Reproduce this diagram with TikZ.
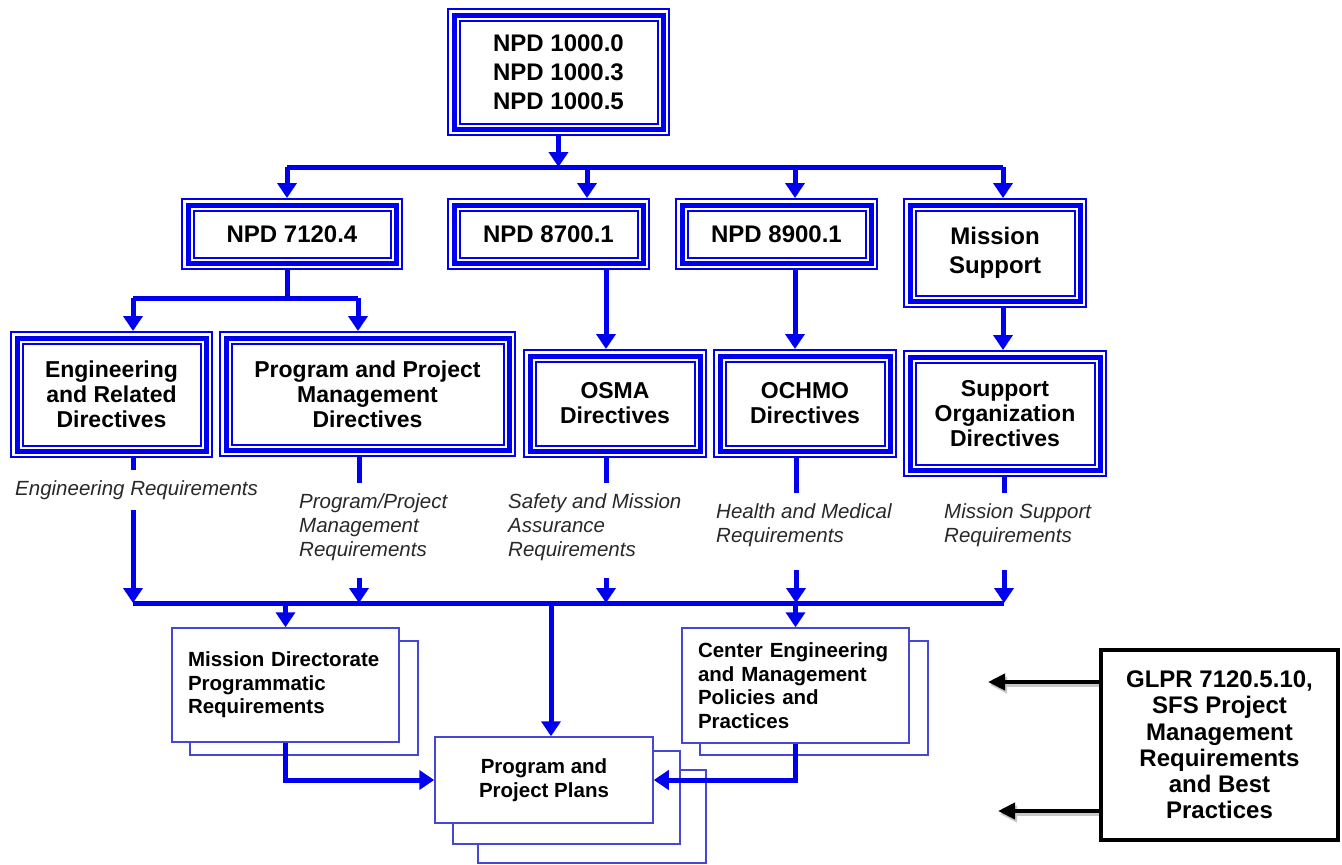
\documentclass[tikz,border=0pt]{standalone}
\usepackage{fontspec}
\setmainfont{Liberation Sans}
\usetikzlibrary{arrows.meta}
\definecolor{dblue}{RGB}{0,0,240}
\definecolor{tblue}{RGB}{70,70,215}
\definecolor{lbl}{RGB}{40,40,40}
\pgfdeclarelayer{bg}
\pgfsetlayers{bg,main}
\begin{document}
\begin{tikzpicture}[x=1pt,y=-1pt,
  tri/.style={draw=dblue, line width=2pt, fill=white, outer sep=12.5pt, inner sep=0pt,
    align=center, text=black, font=\bfseries\fontsize{23}{25}\selectfont},
  topfont/.style={font=\bfseries\fontsize{24}{29}\selectfont},
  thickframe/.style={draw=dblue, line width=5pt},
  thinframe/.style={draw=dblue, line width=2pt},
  link/.style={draw=dblue, line width=5pt},
  arr/.style={link, -{Triangle[width=19pt,length=15pt]}},
  req/.style={font=\itshape\fontsize{20.5}{24}\selectfont, text=lbl, align=left, anchor=west, inner sep=0pt},
  doc/.style={draw=tblue, line width=1.5pt, fill=white, text=black, font=\bfseries\fontsize{20.5}{23.5}\selectfont},
  backdoc/.style={draw=tblue, line width=1.5pt, fill=white},
  glprbox/.style={draw=black, line width=4pt, fill=white, align=center, text=black, inner sep=0pt,
    font=\bfseries\fontsize{24}{26.2}\selectfont},
  karr/.style={draw=black, line width=4pt, -{Triangle[width=16pt,length=17pt]}},
  kshadow/.style={draw=black!22, line width=4pt, -{Triangle[width=16pt,length=17pt]}}
]
\useasboundingbox (0,0) rectangle (1342,865);

% ---- triple-bordered directive boxes ----
\node[tri, topfont, minimum width=198pt, minimum height=103pt] (top) at (558.5,72) {NPD 1000.0\\NPD 1000.3\\NPD 1000.5};
\node[tri, topfont, minimum width=197pt, minimum height=47pt] (n7120) at (292,234) {NPD 7120.4};
\node[tri, topfont, minimum width=178pt, minimum height=47pt] (n8700) at (548.5,234) {NPD 8700.1};
\node[tri, topfont, minimum width=178pt, minimum height=47pt] (n8900) at (776.5,234) {NPD 8900.1};
\node[tri, topfont, minimum width=159pt, minimum height=85pt] (msup) at (995,253) {Mission\\Support};
\node[tri, minimum width=178pt, minimum height=102pt] (eng) at (111.5,394.5) {Engineering\\and Related\\Directives};
\node[tri, minimum width=272pt, minimum height=101pt] (ppm) at (367.5,394) {Program and Project\\Management\\Directives};
\node[tri, minimum width=159pt, minimum height=84pt] (osma) at (615,403.5) {OSMA\\Directives};
\node[tri, minimum width=159pt, minimum height=84pt] (ochmo) at (805,403.5) {OCHMO\\Directives};
\node[tri, minimum width=179pt, minimum height=102pt] (sod) at (1005,413.5) {Support\\Organization\\Directives};

\foreach \n in {top,n7120,n8700,n8900,msup,eng,ppm,osma,ochmo,sod}{
  \draw[thickframe] ([shift={(7pt,-7pt)}]\n.north west) rectangle ([shift={(-7pt,7pt)}]\n.south east);
  \draw[thinframe] ([shift={(1pt,-1pt)}]\n.north west) rectangle ([shift={(-1pt,1pt)}]\n.south east);
}

% ---- top bus ----
\coordinate (busL) at (287,167);
\coordinate (busR) at (1003,167);
\coordinate (j2) at (587,167);
\coordinate (j3) at (795,167);
\draw[arr] (top.south) -- (top.south |- busL);
\draw[link] (busL) -- (busR);
\draw[arr] (busL) -- (busL |- n7120.north);
\draw[arr] (j2) -- (j2 |- n8700.north);
\draw[arr] (j3) -- (j3 |- n8900.north);
\draw[arr] (busR) -- (busR |- msup.north);

% ---- second level ----
\coordinate (k1) at (287,298);
\coordinate (kL) at (133,298);
\coordinate (kR) at (358,298);
\coordinate (k2) at (606,300);
\coordinate (k3) at (795,300);
\coordinate (k4) at (1003,300);
\draw[link] (k1 |- n7120.south) -- (k1);
\draw[link] (kL) -- (kR);
\draw[arr] (kL) -- (kL |- eng.north);
\draw[arr] (kR) -- (kR |- ppm.north);
\draw[arr] (k2 |- n8700.south) -- (k2 |- osma.north);
\draw[arr] (k3 |- n8900.south) -- (k3 |- ochmo.north);
\draw[arr] (k4 |- msup.south) -- (k4 |- sod.north);

% ---- requirement labels ----
\node[req] (lEng) at (15,490) {Engineering Requirements};
\node[req] (lPPM) at (299,527) {Program/Project\\Management\\Requirements};
\node[req] (lSMA) at (508,527) {Safety and Mission\\Assurance\\Requirements};
\node[req] (lHM) at (716,525) {Health and Medical\\Requirements};
\node[req] (lMS) at (944,525) {Mission Support\\Requirements};

% ---- lower bus ----
\coordinate (s1) at (133,603);
\coordinate (s2) at (359,603);
\coordinate (s3) at (606,603);
\coordinate (s4) at (796,603);
\coordinate (s5) at (1004,603);
\draw[link] (s1 |- eng.south) -- (133,470);
\draw[arr] (133,510) -- (s1);
\draw[link] (s2 |- ppm.south) -- (359,483);
\draw[arr] (359,578) -- (s2);
\draw[link] (s3 |- osma.south) -- (606,483);
\draw[arr] (606,578) -- (s3);
\draw[link] (s4 |- ochmo.south) -- (796,493);
\draw[arr] (796,570) -- (s4);
\draw[link] (s5 |- sod.south) -- (1004,493);
\draw[arr] (1004,570) -- (s5);
\draw[link] (s1) -- (s5);

% ---- document boxes ----
\begin{pgfonlayer}{bg}
  \draw[backdoc] (190,641) rectangle (418,755);
  \draw[backdoc] (700,641) rectangle (928,755);
  \draw[backdoc] (478,770) rectangle (706,863);
  \draw[backdoc] (453,751) rectangle (680,844);
\end{pgfonlayer}
\node[doc, align=left, text width=195pt, inner xsep=16pt, minimum height=114pt] (mdr) at (285.5,685) {Mission Directorate\\Programmatic\\Requirements};
\node[doc, align=left, text width=195pt, inner xsep=16pt, minimum height=115pt] (cen) at (795.5,685.5) {Center Engineering\\and Management\\Policies and\\Practices};
\node[doc, align=center, minimum width=218pt, minimum height=86pt] (plans) at (544,780) {Program and\\Project Plans};

\draw[arr] (mdr.north |- s1) -- (mdr.north);
\draw[arr] (cen.north |- s4) -- (cen.north);
\draw[arr] ([xshift=7pt]plans.north |- s3) -- ([xshift=7pt]plans.north);
\draw[arr] (mdr.south) |- (plans.west);
\draw[arr] (cen.south) |- (plans.east);

% ---- GLPR box ----
\node[glprbox, minimum width=237pt, minimum height=190pt] (glpr) at (1219.5,745) {GLPR 7120.5.10,\\SFS Project\\Management\\Requirements\\and Best\\Practices};
\draw[kshadow] ([shift={(0pt,60pt)}]glpr.west) -- ++(-109,0);
\draw[kshadow] ([shift={(0pt,-69pt)}]glpr.west) -- ++(-99,0);
\draw[karr] ([yshift=63pt]glpr.west) -- ++(-111,0);
\draw[karr] ([yshift=-66pt]glpr.west) -- ++(-101,0);
\end{tikzpicture}
\end{document}
